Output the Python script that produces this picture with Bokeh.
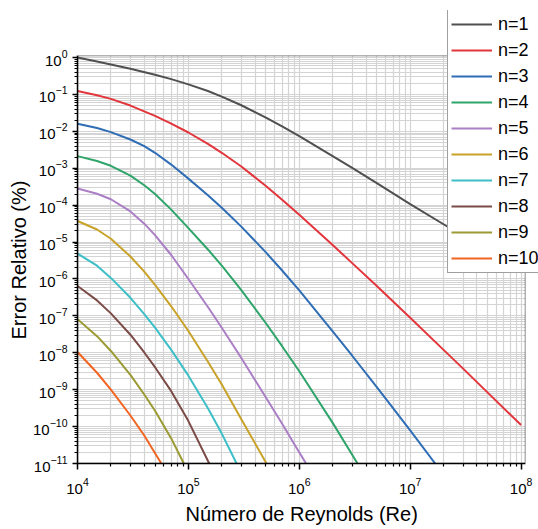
from bokeh.plotting import figure
from bokeh.models import (Legend, LegendItem, Range1d, FixedTicker, LogTickFormatter,
                          AllLabels, BoxAnnotation, Title)
from bokeh.embed import file_html
from bokeh.resources import INLINE

labels = ["n=1", "n=2", "n=3", "n=4", "n=5", "n=6", "n=7", "n=8", "n=9", "n=10"]
colors = ["#505050", "#e3363c", "#2f6db5", "#2fa56b", "#ab7fc6", "#c9a229",
          "#3dbfc8", "#7b4b47", "#9b9a33", "#f26522"]

x_ticks = [1e4, 1e5, 1e6, 1e7, 1e8]
y_ticks = [1e-11, 1e-10, 1e-9, 1e-8, 1e-7, 1e-6, 1e-5, 1e-4, 1e-3, 1e-2, 1e-1, 1e0]

re_1 = [1e4, 1.5e4, 2e4, 3e4, 5e4, 7e4, 1e5, 1.5e5, 2e5, 3e5, 5e5, 7e5, 1e6, 2e6, 3e6,
        5e6, 1e7, 2.14e7, 1e8]
err_1 = [1.0, 0.782, 0.652, 0.499, 0.344, 0.261, 0.188, 0.124, 0.0879, 0.0511, 0.0235,
         0.0136, 0.00745, 0.00214, 0.00102, 3.98e-4, 1.07e-4, 2.69e-5, 1.51e-6]

re_2 = [1e4, 1.5e4, 2e4, 3e4, 5e4, 7e4, 1e5, 1.5e5, 2e5, 3e5, 5e5, 7e5, 1e6, 2e6, 3e6,
        5e6, 1e7, 2e7, 3e7, 5e7, 1e8]
err_2 = [0.1245, 0.0955, 0.0759, 0.0501, 0.0263, 0.0162, 0.00933, 0.00457, 0.00263,
         0.00112, 3.31e-4, 1.41e-4, 5.50e-5, 8.32e-6, 2.69e-6, 6.46e-7, 8.91e-8, 1.20e-8,
         3.72e-9, 8.32e-10, 1.10e-10]

re_3 = [1e4, 1.5e4, 2e4, 3e4, 4e4, 5e4, 7e4, 1e5, 1.5e5, 2e5, 3e5, 5e5, 7e5, 1e6, 2e6,
        3e6, 5e6, 1e7, 1.68e7]
err_3 = [0.0162, 0.0123, 0.00955, 0.00603, 0.00398, 0.00263, 0.00126, 5.25e-4, 1.86e-4,
         8.51e-5, 2.63e-5, 5.25e-6, 1.70e-6, 4.90e-7, 3.80e-8, 8.32e-9, 1.17e-9, 7.94e-11,
         1.0e-11]

re_4 = [1e4, 1.5e4, 2e4, 3e4, 4e4, 5e4, 7e4, 1e5, 1.5e5, 2e5, 3e5, 5e5, 7e5, 1e6, 2e6,
        3.35e6]
err_4 = [0.00214, 0.00158, 0.00117, 6.31e-4, 3.47e-4, 2.00e-4, 7.59e-5, 2.40e-5, 6.31e-6,
         2.29e-6, 5.01e-7, 6.31e-8, 1.51e-8, 3.16e-9, 1.26e-10, 1.0e-11]

re_5 = [1e4, 1.5e4, 2e4, 3e4, 4e4, 5e4, 7e4, 1e5, 1.5e5, 2e5, 3e5, 5e5, 7e5, 1e6, 1.15e6]
err_5 = [2.82e-4, 2.04e-4, 1.45e-4, 6.76e-5, 3.16e-5, 1.55e-5, 4.47e-6, 1.0e-6, 1.74e-7,
         4.79e-8, 7.24e-9, 6.17e-10, 1.20e-10, 2.00e-11, 1.0e-11]

re_6 = [1e4, 1.5e4, 2e4, 3e4, 4e4, 5e4, 7e4, 1e5, 1.5e5, 2e5, 3e5, 5.06e5]
err_6 = [3.72e-5, 2.19e-5, 1.23e-5, 4.07e-6, 1.58e-6, 6.92e-7, 1.82e-7, 3.89e-8, 5.75e-9,
         1.38e-9, 1.58e-10, 1.0e-11]

re_7 = [1e4, 1.5e4, 2e4, 3e4, 4e4, 5e4, 7e4, 1e5, 1.5e5, 2e5, 2.72e5]
err_7 = [4.90e-6, 2.29e-6, 1.07e-6, 3.09e-7, 1.12e-7, 4.79e-8, 1.20e-8, 2.40e-9, 3.16e-10,
         6.46e-11, 1.0e-11]

re_8 = [1e4, 1.5e4, 2e4, 3e4, 4e4, 5e4, 7e4, 1e5, 1.54e5]
err_8 = [6.46e-7, 2.63e-7, 1.17e-7, 3.09e-8, 1.02e-8, 4.07e-9, 9.12e-10, 1.41e-10, 1.0e-11]

re_9 = [1e4, 1.5e4, 2e4, 3e4, 4e4, 5e4, 7e4, 9.1e4]
err_9 = [8.13e-8, 2.82e-8, 1.12e-8, 2.51e-9, 7.41e-10, 2.69e-10, 4.79e-11, 1.0e-11]

re_10 = [1e4, 1.5e4, 2e4, 3e4, 4e4, 5.7e4]
err_10 = [1.05e-8, 2.88e-9, 1.0e-9, 2.0e-10, 5.75e-11, 1.0e-11]

series_re = [re_1, re_2, re_3, re_4, re_5, re_6, re_7, re_8, re_9, re_10]
series_err = [err_1, err_2, err_3, err_4, err_5, err_6, err_7, err_8, err_9, err_10]

FONT = "Liberation Sans"

# visible plot box (data units) and the wider frame that leaves room for the legend
X_LO, X_HI = 1e4, 1.09e8
Y_LO, Y_HI = 1e-11, 1.12
X_FRAME_HI = 10 ** 8.157
Y_FRAME_HI = 10 ** 1.276

p = figure(width=538, height=529, x_axis_type="log", y_axis_type="log",
           x_range=Range1d(X_LO, X_FRAME_HI), y_range=Range1d(Y_LO, Y_FRAME_HI),
           output_backend="svg", toolbar_location=None,
           min_border_left=77, min_border_right=0, min_border_top=10, min_border_bottom=66)

p.background_fill_color = "white"
p.border_fill_color = "white"
p.outline_line_color = None

x_minor = [k * 10 ** e for e in range(4, 8) for k in range(2, 10)]
y_minor = [k * 10.0 ** e for e in range(-11, 0) for k in range(2, 10)]
p.xaxis.ticker = FixedTicker(ticks=x_ticks, minor_ticks=x_minor)
p.yaxis.ticker = FixedTicker(ticks=y_ticks, minor_ticks=y_minor)
p.xaxis.formatter = LogTickFormatter()
p.yaxis.formatter = LogTickFormatter()
p.xaxis.bounds = (X_LO, X_HI)
p.yaxis.bounds = (Y_LO, Y_HI)

for g in (p.xgrid, p.ygrid):
    g.grid_line_color = "#d4d4d4"
    g.grid_line_width = 1.2
    g.minor_grid_line_color = "#d4d4d4"
    g.minor_grid_line_width = 1.2

for ax in (p.xaxis, p.yaxis):
    ax.major_label_policy = AllLabels()
    ax.axis_line_color = "black"
    ax.axis_line_width = 1.5
    ax.major_tick_line_color = "black"
    ax.major_tick_line_width = 1.5
    ax.minor_tick_line_color = "black"
    ax.minor_tick_line_width = 1.2
    ax.major_tick_in = 0
    ax.minor_tick_in = 0
    ax.minor_tick_out = 3
    ax.major_label_text_font = FONT
    ax.major_label_text_font_size = "15px"
    ax.major_label_text_color = "black"

p.xaxis.major_tick_out = 6
p.yaxis.major_tick_out = 5
p.xaxis.major_label_standoff = 8
p.yaxis.major_label_standoff = 5

# cover the grid outside the visible plot box
p.add_layout(BoxAnnotation(left=1e3, right=1e10, bottom=Y_HI, top=1e4,
                           fill_color="white", fill_alpha=1.0, line_color=None))
p.add_layout(BoxAnnotation(left=X_HI, right=1e10, bottom=1e-13, top=1e4,
                           fill_color="white", fill_alpha=1.0, line_color=None))

items = []
for lab, col, xs, ys in zip(labels, colors, series_re, series_err):
    r = p.line(xs, ys, line_color=col, line_width=2)
    items.append(LegendItem(label=lab, renderers=[r]))

# visible frame
p.add_layout(BoxAnnotation(left=X_LO, right=X_HI, bottom=Y_LO, top=Y_HI,
                           fill_alpha=0.0, line_color="black", line_width=1.5))

xlabel = Title(text="Número de Reynolds (Re)", align="left", offset=108,
               text_font=FONT, text_font_size="20px", text_font_style="normal",
               text_color="black", standoff=8)
p.add_layout(xlabel, "below")
ylabel = Title(text="Error Relativo (%)", align="left", offset=124,
               text_font=FONT, text_font_size="20px", text_font_style="normal",
               text_color="black", standoff=2)
p.add_layout(ylabel, "left")

legend = Legend(items=items, location=(370, 190))
legend.border_line_color = "#404040"
legend.border_line_width = 1
legend.background_fill_color = "white"
legend.background_fill_alpha = 1.0
legend.label_text_font = FONT
legend.label_text_font_size = "18px"
legend.label_text_color = "black"
legend.glyph_width = 41
legend.glyph_height = 22
legend.label_height = 22
legend.label_standoff = 6
legend.spacing = 4
legend.padding = 3
legend.margin = 0
p.add_layout(legend, "center")

open("out.html", "w").write(file_html(p, INLINE))
